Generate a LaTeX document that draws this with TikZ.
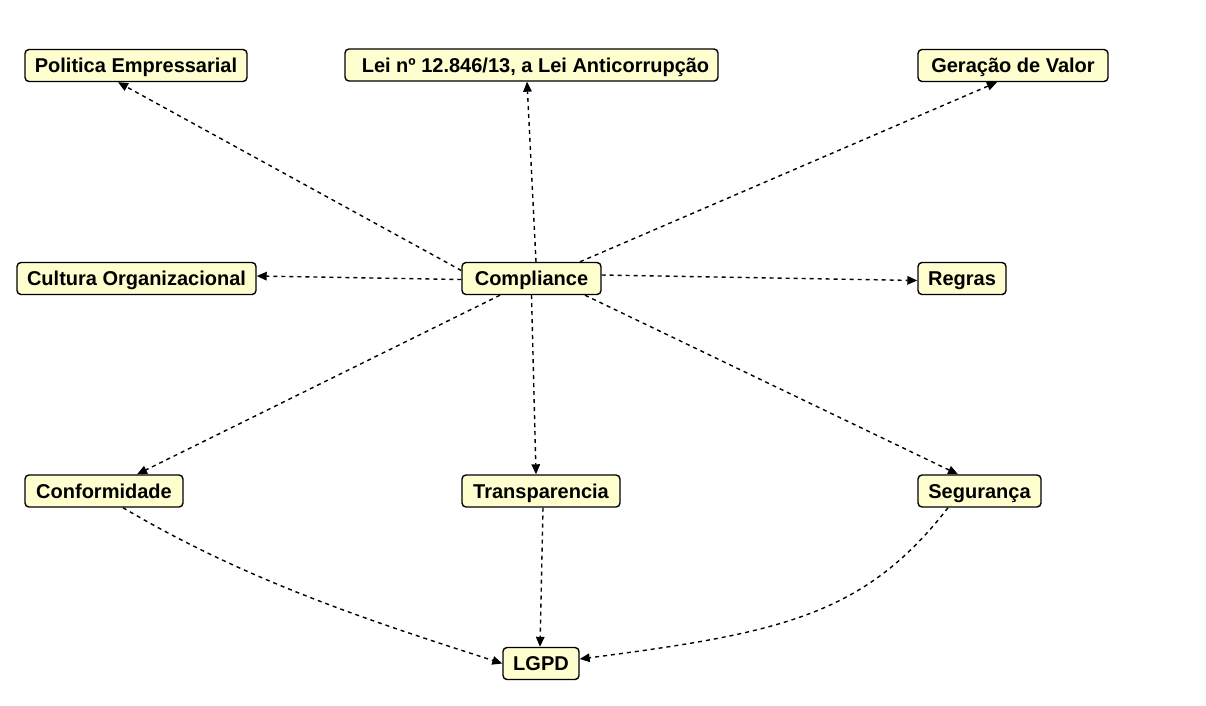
\documentclass[tikz,border=0pt]{standalone}
\usepackage{fontspec}
\setmainfont{Liberation Sans}
\usetikzlibrary{arrows.meta}
\definecolor{boxfill}{HTML}{FEFECE}
\tikzset{
  box/.style={draw=black, line width=1.4pt, rounded corners=4pt, fill=boxfill,
    minimum height=32pt, inner sep=0pt, text height=16pt, text depth=2pt,
    font=\fontsize{20}{22}\selectfont\bfseries},
  link/.style={line width=1.4pt, dash pattern=on 4pt off 4pt,
    -{Triangle[length=10pt,width=8.5pt]}}
}
\begin{document}
\begin{tikzpicture}[x=1pt,y=-1pt]
\useasboundingbox (0,0) rectangle (1206,705);
\node[box, minimum width=222pt] (pol) at (136,65.5) {Politica Empressarial};
\node[box, minimum width=373pt] (lei) at (531.5,65) {\hspace{8pt}Lei nº 12.846/13, a Lei Anticorrupção};
\node[box, minimum width=190pt] (ger) at (1013,65.5) {Geração de Valor};
\node[box, minimum width=239pt] (cult) at (136.5,278.5) {Cultura Organizacional};
\node[box, minimum width=139pt] (comp) at (531.5,278.5) {Compliance};
\node[box, minimum width=88pt] (reg) at (962,278.5) {Regras};
\node[box, minimum width=158pt] (conf) at (104,491) {Conformidade};
\node[box, minimum width=158pt] (trans) at (541,491) {Transparencia};
\node[box, minimum width=123pt] (seg) at (979.5,491) {Segurança};
\node[box, minimum width=76pt] (lgpd) at (541,663.5) {LGPD};

\draw[link] ([yshift=8pt]comp.west) -- ([xshift=-18pt]pol.south);
\draw[link] ([xshift=4.5pt]comp.north) -- ([xshift=-4.5pt]lei.south);
\draw[link] ([xshift=48.5pt]comp.north) -- ([xshift=-16pt]ger.south);
\draw[link] ([yshift=-1pt]comp.west) -- ([yshift=2.5pt]cult.east);
\draw[link] ([yshift=3.5pt]comp.east) -- ([yshift=-2pt]reg.west);
\draw[link] ([xshift=-31.5pt]comp.south) -- ([xshift=33pt]conf.north);
\draw[link] (comp.south) -- ([xshift=-5pt]trans.north);
\draw[link] ([xshift=53.5pt]comp.south) -- ([xshift=-21.5pt]seg.north);
\draw[link] ([xshift=19pt]conf.south) .. controls (250,583) and (380,624) .. (lgpd.west);
\draw[link] ([xshift=2pt]trans.south) -- ([xshift=-1pt]lgpd.north);
\draw[link] ([xshift=-31.5pt]seg.south) .. controls (865,615) and (781,633) .. ([yshift=4.5pt]lgpd.east);
\end{tikzpicture}
\end{document}
